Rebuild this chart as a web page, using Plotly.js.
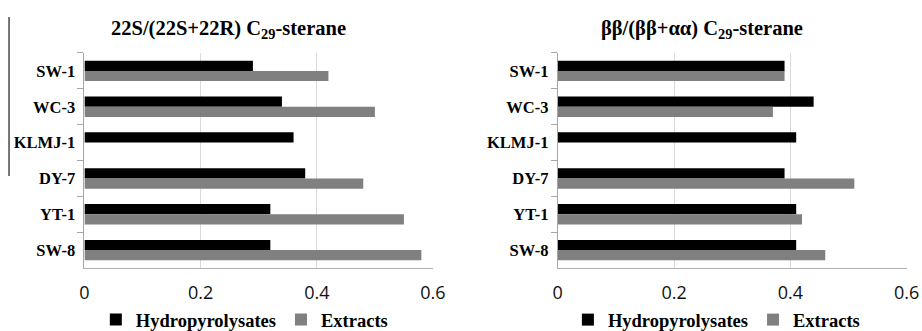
<!DOCTYPE html>
<html>
<head>
<meta charset="utf-8">
<script src="https://cdn.plot.ly/plotly-3.0.1.min.js"></script>
<style>
html,body{margin:0;padding:0;background:#fff;}
#chart{width:922px;height:331px;}
</style>
</head>
<body>
<div id="chart"></div>
<script>
const samples = ["SW-1", "WC-3", "KLMJ-1", "DY-7", "YT-1", "SW-8"];
const seriesNames = ["Hydropyrolysates", "Extracts"];
const title22S = "22S/(22S+22R) C<sub>29</sub>-sterane";
const titleBB = "ββ/(ββ+αα) C<sub>29</sub>-sterane";
const hydro22S = [0.29, 0.34, 0.36, 0.38, 0.32, 0.32];
const extract22S = [0.42, 0.50, null, 0.48, 0.55, 0.58];
const hydroBB = [0.39, 0.44, 0.41, 0.39, 0.41, 0.41];
const extractBB = [0.39, 0.37, null, 0.51, 0.42, 0.46];
const xTicks = [0, 0.2, 0.4, 0.6];
const xTickText = ["0", "0.2", "0.4", "0.6"];

const serif = "Liberation Serif, Times New Roman, serif";
const sans = "Open Sans, Liberation Sans, sans-serif";
const black = "#000000";
const gray = "#808080";

function bar(name, x, color, xa, ya, legend) {
  return {
    type: "bar", orientation: "h", name: name, x: x, y: samples,
    xaxis: xa, yaxis: ya, legend: legend,
    marker: {color: color, line: {width: 0}},
    hoverinfo: "x+y+name"
  };
}

const data = [
  bar(seriesNames[0], hydro22S, black, "x", "y", "legend"),
  bar(seriesNames[1], extract22S, gray, "x", "y", "legend"),
  bar(seriesNames[0], hydroBB, black, "x2", "y2", "legend2"),
  bar(seriesNames[1], extractBB, gray, "x2", "y2", "legend2")
];

function xax(domain, anchor) {
  return {
    domain: domain, anchor: anchor, range: [0, 0.6],
    tickvals: xTicks, ticktext: xTickText,
    showgrid: true, gridcolor: "#d9d9d9", gridwidth: 1,
    zeroline: false, showline: true, linecolor: "#b0b0b0", linewidth: 1,
    ticks: "outside", ticklen: 8, tickcolor: "rgba(0,0,0,0)",
    tickfont: {family: sans, size: 18, color: "#111"},
    automargin: false, fixedrange: true
  };
}
function yax(anchor) {
  return {
    domain: [0.1903, 0.8399], anchor: anchor, type: "category",
    autorange: "reversed", tickson: "boundaries",
    ticks: "outside", ticklen: 6, tickcolor: "#a6a6a6", tickwidth: 1,
    showline: true, linecolor: "#a6a6a6", linewidth: 1,
    showgrid: false, zeroline: false, ticklabelstandoff: 5,
    tickfont: {family: serif, size: 16.5, color: "#000", weight: "bold"},
    automargin: false, fixedrange: true
  };
}

function legendAt(x) {
  return {
    orientation: "h", x: x, xanchor: "center", y: 0.033, yanchor: "middle",
    font: {family: serif, size: 18.5, color: "#000", weight: "bold"},
    bgcolor: "rgba(0,0,0,0)", itemwidth: 30, traceorder: "normal"
  };
}

const layout = {
  width: 922, height: 331,
  margin: {l: 0, r: 0, t: 0, b: 0, pad: 0, autoexpand: false},
  paper_bgcolor: "#fff", plot_bgcolor: "#fff",
  barmode: "group", bargap: 0.43, bargroupgap: 0,
  showlegend: true,
  xaxis: xax([0.0916, 0.4696], "y"),
  yaxis: yax("x"),
  xaxis2: xax([0.6049, 0.9834], "y2"),
  yaxis2: yax("x2"),
  legend: legendAt(0.265),
  legend2: legendAt(0.777),
  annotations: [
    {text: title22S, x: 0.248, y: 0.912, xref: "paper", yref: "paper",
     xanchor: "center", yanchor: "middle", showarrow: false,
     font: {family: serif, size: 20.5, color: "#000", weight: "bold"}},
    {text: titleBB, x: 0.7614, y: 0.912, xref: "paper", yref: "paper",
     xanchor: "center", yanchor: "middle", showarrow: false,
     font: {family: serif, size: 20.5, color: "#000", weight: "bold"}}
  ],
  shapes: [
    {type: "line", xref: "paper", yref: "paper", x0: 0.0098, x1: 0.0098,
     y0: 0.468, y1: 0.9486, line: {color: "#1a1a1a", width: 1.2}}
  ]
};

Plotly.newPlot("chart", data, layout, {displayModeBar: false, staticPlot: true});
</script>
</body>
</html>
